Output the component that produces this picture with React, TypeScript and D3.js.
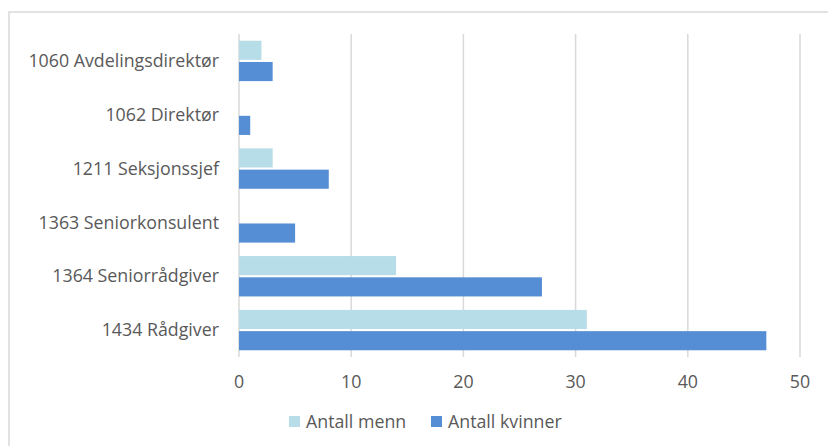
import React, { useEffect, useRef } from 'react';
import * as d3 from 'd3';

const categories = [
  '1060 Avdelingsdirektør',
  '1062 Direktør',
  '1211 Seksjonssjef',
  '1363 Seniorkonsulent',
  '1364 Seniorrådgiver',
  '1434 Rådgiver',
];
const seriesNames = ['Antall menn', 'Antall kvinner'];
const menn = [2, 0, 3, 0, 14, 31];
const kvinner = [3, 1, 8, 5, 27, 47];
const xTicks = [0, 10, 20, 30, 40, 50];

const colors = ['#b7dde8', '#558ed5'];
const font = '"Open Sans", Lato, sans-serif';

const App = () => {
  const ref = useRef<SVGSVGElement>(null);

  useEffect(() => {
    const svg = d3.select(ref.current);
    svg.selectAll('*').remove();

    const left = 239;
    const right = 800;
    const top = 34;
    const bottom = 357;

    const x = d3.scaleLinear().domain([0, 50]).range([left, right]);
    const y = d3.scaleBand().domain(categories).range([top, bottom]).paddingInner(0.25).paddingOuter(0.125);
    const sub = d3.scaleBand().domain(seriesNames).range([0, y.bandwidth()]).paddingInner(0.1);

    // frame
    svg
      .append('rect')
      .attr('x', 9)
      .attr('y', 12)
      .attr('width', 840)
      .attr('height', 460)
      .attr('fill', 'white')
      .attr('stroke', '#d9d9d9')
      .attr('stroke-width', 1.5);

    // gridlines
    svg
      .append('g')
      .selectAll('line')
      .data(xTicks)
      .enter()
      .append('line')
      .attr('x1', d => x(d))
      .attr('x2', d => x(d))
      .attr('y1', top)
      .attr('y2', bottom)
      .attr('stroke', '#d9d9d9')
      .attr('stroke-width', 1.5);

    const data = categories.map((c, i) => ({ c, values: [menn[i], kvinner[i]] }));

    // bars
    const groups = svg
      .append('g')
      .selectAll('g')
      .data(data)
      .enter()
      .append('g')
      .attr('transform', d => 'translate(0,' + y(d.c) + ')');

    groups
      .selectAll('rect')
      .data(d => d.values.map((v, j) => ({ v, s: seriesNames[j], j })))
      .enter()
      .append('rect')
      .attr('x', x(0))
      .attr('y', d => sub(d.s) as number)
      .attr('width', d => x(d.v) - x(0))
      .attr('height', sub.bandwidth())
      .attr('fill', d => colors[d.j]);

    // category labels
    svg
      .append('g')
      .selectAll('text')
      .data(categories)
      .enter()
      .append('text')
      .attr('x', 219)
      .attr('y', d => (y(d) as number) + y.bandwidth() / 2)
      .attr('dy', '0.35em')
      .attr('text-anchor', 'end')
      .attr('font-family', font)
      .attr('font-size', 17.8)
      .attr('fill', '#595959')
      .text(d => d);

    // x tick labels
    svg
      .append('g')
      .selectAll('text')
      .data(xTicks)
      .enter()
      .append('text')
      .attr('x', d => x(d))
      .attr('y', 382)
      .attr('dy', '0.35em')
      .attr('text-anchor', 'middle')
      .attr('font-family', font)
      .attr('font-size', 17.8)
      .attr('fill', '#595959')
      .text(d => d);

    // legend
    const legendX = [289, 431];
    const legend = svg
      .append('g')
      .selectAll('g')
      .data(seriesNames)
      .enter()
      .append('g')
      .attr('transform', (d, i) => 'translate(' + legendX[i] + ',416)');

    legend
      .append('rect')
      .attr('width', 11)
      .attr('height', 11)
      .attr('fill', (d, i) => colors[i]);

    legend
      .append('text')
      .attr('x', 17)
      .attr('y', 6)
      .attr('dy', '0.35em')
      .attr('font-family', font)
      .attr('font-size', 17.8)
      .attr('fill', '#595959')
      .text(d => d);
  }, []);

  return (
    <svg
      ref={ref}
      width={828}
      height={446}
      style={{ position: 'absolute', left: 0, top: 0, display: 'block' }}
    />
  );
};

export default App;
